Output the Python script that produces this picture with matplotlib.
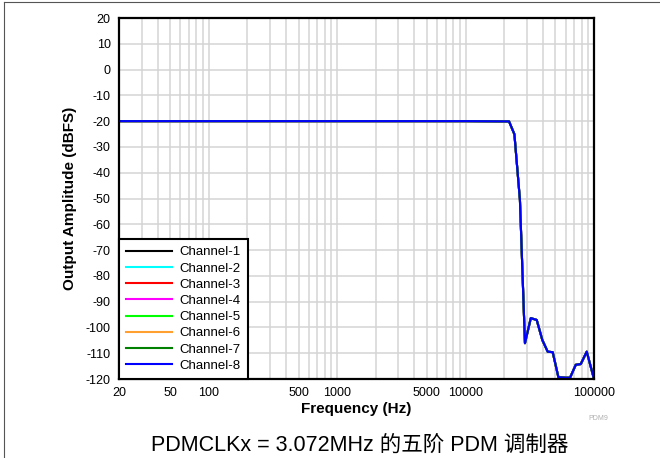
import matplotlib
matplotlib.use("Agg")
import matplotlib.pyplot as plt
from matplotlib.lines import Line2D

plt.rcParams['font.family'] = ['Liberation Sans', 'Noto Sans CJK SC']
plt.rcParams['axes.unicode_minus'] = False

# frequency response (all 8 channels overlap)
freq_hz = [20, 100, 1000, 10000, 20000, 21800, 24000, 26500, 29000, 32200,
           35800, 39600, 43600, 47700, 52800, 60600, 65100, 72100, 78900,
           87800, 100000]
amp_dbfs = [-20, -20, -20, -20, -20.1, -20.1, -25.1, -50.6, -106.1, -96.4,
            -97.1, -104.9, -109.4, -109.6, -119.3, -119.5, -119.5, -114.5,
            -114.2, -109.4, -120]

channels = ["Channel-1", "Channel-2", "Channel-3", "Channel-4",
            "Channel-5", "Channel-6", "Channel-7", "Channel-8"]
colors = ["#000000", "#00ffff", "#ff0000", "#ff00ff",
          "#00ff00", "#ffa030", "#008000", "#0000ff"]

xticks = [20, 50, 100, 500, 1000, 5000, 10000, 100000]
yticks = list(range(-120, 21, 10))

fig = plt.figure(figsize=(6.6, 4.58), dpi=100)
ax = fig.add_axes([119 / 660, 79 / 458, 475 / 660, 361 / 458])

for name, c in zip(channels, colors):
    ax.plot(freq_hz, amp_dbfs, color=c, lw=1.5, label=name)

ax.set_xscale('log')
ax.set_xlim(20, 100000)
ax.set_ylim(-120, 20)
ax.set_xticks(xticks)
ax.set_xticklabels([str(t) for t in xticks])
ax.set_xticks([m * 10 ** e for e in range(1, 5) for m in range(2, 10)
               if 20 < m * 10 ** e < 100000], minor=True)
ax.set_yticks(yticks)
ax.tick_params(which='both', length=0, labelsize=9, pad=6)
ax.xaxis.set_minor_formatter(plt.NullFormatter())
ax.grid(True, which='both', color='#d4d4d4', lw=1.1)
ax.set_axisbelow(True)
for s in ax.spines.values():
    s.set_linewidth(1.6)

ax.set_xlabel("Frequency (Hz)", fontsize=11, fontweight='bold', labelpad=2)
ax.set_ylabel("Output Amplitude (dBFS)", fontsize=11, fontweight='bold', labelpad=6)

leg = ax.legend(loc='lower left', borderaxespad=0, fontsize=9.5, handlelength=3.5,
                handletextpad=0.55, labelspacing=0.3, fancybox=False,
                edgecolor='black', framealpha=1, borderpad=0.55)
leg.get_frame().set_linewidth(1.5)

fig.text(588 / 660, 1 - 418 / 458, "PDM9", fontsize=5, color='#b0b0b0',
         ha='left', va='center')
fig.text(360 / 660, 13 / 458, "PDMCLKx = 3.072MHz 的五阶 PDM 调制器",
         fontsize=15.5, ha='center', va='center')

# crop border of the original page
fig.add_artist(Line2D([3.5 / 660, 3.5 / 660], [0, 1 - 2 / 458], color='#555555', lw=0.8))
fig.add_artist(Line2D([3.5 / 660, 1], [1 - 2 / 458, 1 - 2 / 458], color='#555555', lw=0.8))

fig.savefig("out.png", dpi=100)
